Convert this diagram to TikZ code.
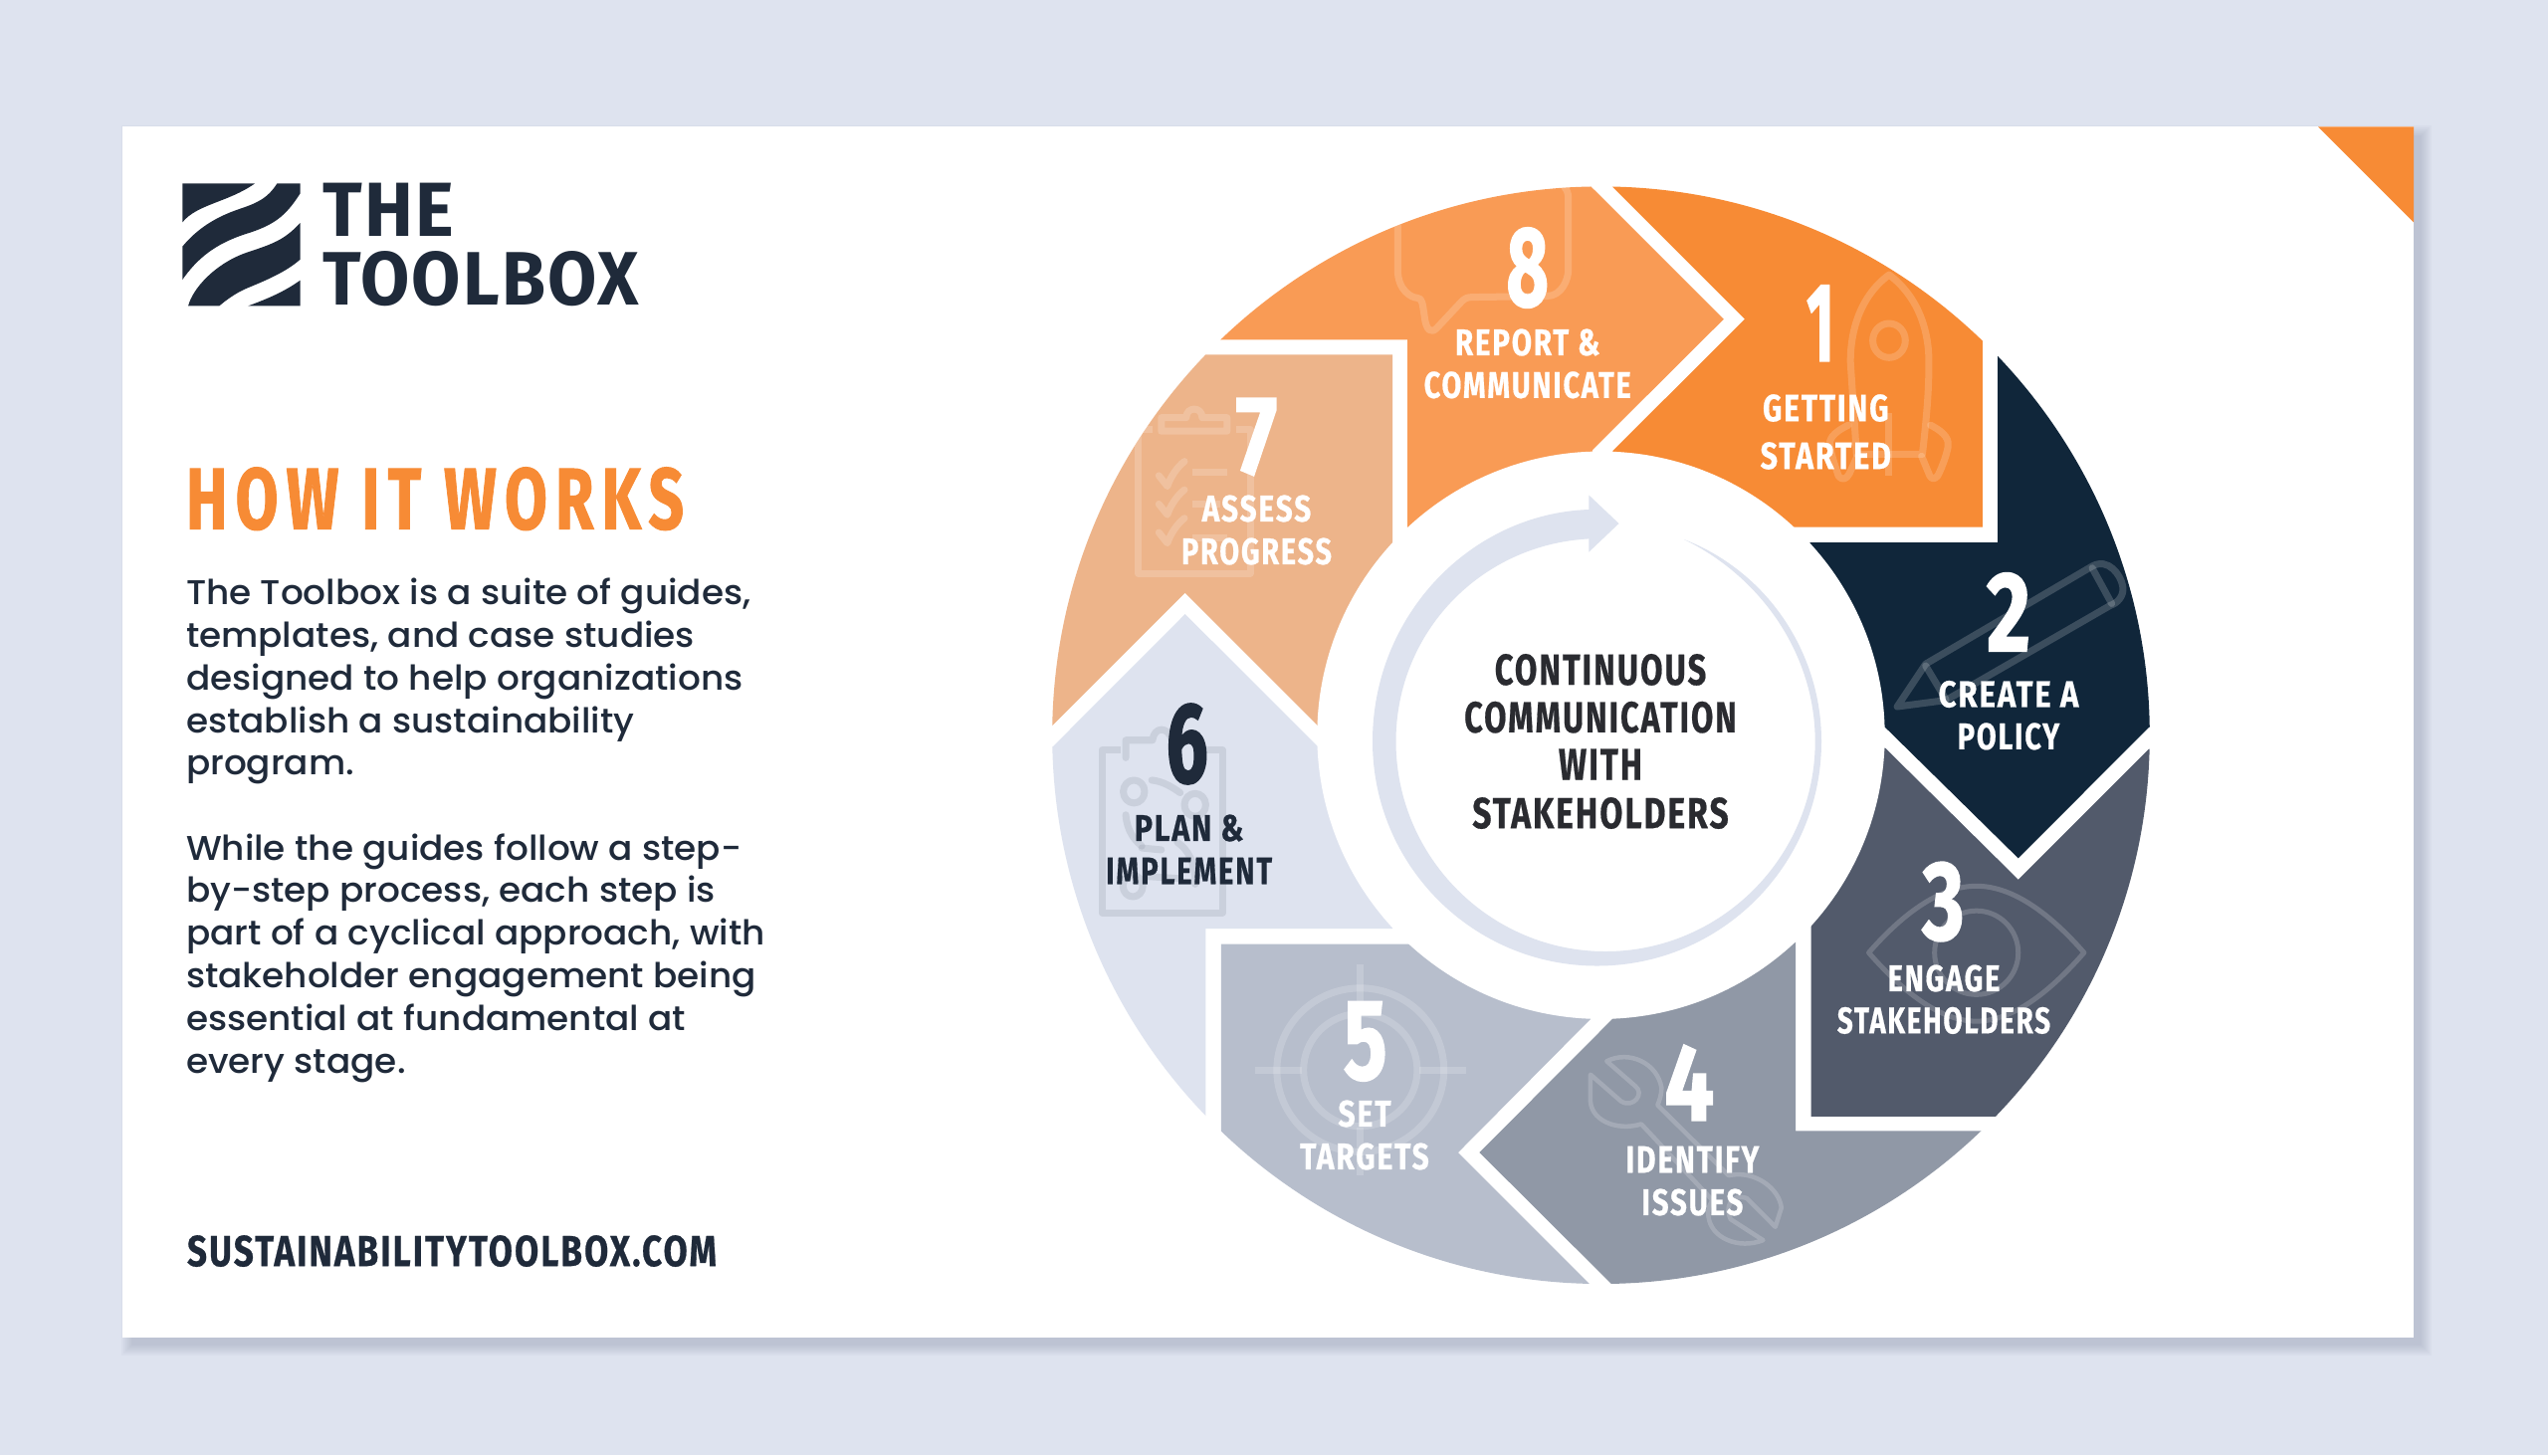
\documentclass[tikz,border=0pt]{standalone}
\usepackage{fontspec}
\setmainfont[FakeStretch=1.04]{Poppins Medium}
\newfontfamily\capsfont[LetterSpace=6,FakeBold=0.6]{Fira Sans}
\newfontfamily\headfont[LetterSpace=13,FakeBold=1.2]{Fira Sans}
\newfontfamily\wordfont[LetterSpace=3]{Fira Sans}
\newfontfamily\numfont[FakeBold=1.6]{Fira Sans}
\newdimen\pxu \pxu=0.01cm
\newcommand{\fitcaps}[3]{\resizebox{#1\pxu}{#2\pxu}{\capsfont\bfseries #3}}
\newcommand{\fitword}[3]{\resizebox{#1\pxu}{#2\pxu}{\wordfont\bfseries #3}}
\newcommand{\fitnum}[3]{\resizebox{#1\pxu}{#2\pxu}{\numfont\bfseries #3}}
\definecolor{bgblue}{HTML}{DEE3EF}
\definecolor{orangemain}{HTML}{F78B35}
\definecolor{navy}{HTML}{10263A}
\definecolor{slate}{HTML}{525A6B}
\definecolor{steel}{HTML}{9098A6}
\definecolor{mist}{HTML}{B7BECC}
\definecolor{peach}{HTML}{EDB48A}
\definecolor{orangelight}{HTML}{F99B55}
\definecolor{ink}{HTML}{1F2A3A}
\definecolor{hubink}{HTML}{2A2B30}
\definecolor{shadowc}{HTML}{6C788F}
\tikzset{
  txt/.style={inner sep=0pt,outer sep=0pt},
  whitetxt/.style={txt,text=white},
  inktxt/.style={txt,text=ink},
  hubtxt/.style={txt,text=hubink},
  bodytxt/.style={txt,text=ink,anchor=base west},
  icon/.style={line width=0.07cm,line join=round,line cap=round,draw=white,draw opacity=.18},
  icon6/.style={line width=0.07cm,line join=round,line cap=round,draw=steel,draw opacity=.25},
  z1/.style={shift={(1040,160)},xscale=0.35714,yscale=0.35714},
  z2/.style={shift={(1600,160)},xscale=0.40816,yscale=0.35714},
  z3/.style={shift={(1040,720)},xscale=0.35714,yscale=0.38265},
  z4/.style={shift={(1600,720)},xscale=0.40816,yscale=0.38265},
  z5/.style={shift={(140,150)},xscale=0.44643,yscale=0.33333},
}
\begin{document}
\begin{tikzpicture}[x=0.01cm,y=-0.01cm]
\useasboundingbox (0,0) rectangle (2560,1462);
\fill[bgblue] (0,0) rectangle (2560,1462);
% card shadow
\foreach \i in {0,2,...,10}{
  \fill[shadowc,opacity=.05] (122.5+9-\i,127+9-\i) rectangle (2425+8+\i,1344+8+\i);
}
\fill[white] (122.5,127) rectangle (2425,1344);
\fill[orangemain] (2329,127.3) -- (2425,127.3) -- (2425,223.3) -- cycle;
% logo mark
\begin{scope}[z5]
\fill[ink] (97,103) -- (260,103) .. controls (200,160) and (130,165) .. (97,220) -- cycle;
\fill[ink] (310,103) -- (362,103) -- (362,133) .. controls (330,200) and (305,228) .. (240,255) .. controls (170,285) and (130,330) .. (97,393) -- (97,293) .. controls (130,240) and (170,205) .. (225,180) .. controls (270,160) and (290,145) .. (310,103) -- cycle;
\fill[ink] (362,222) -- (362,332) .. controls (330,370) and (285,395) .. (240,420) .. controls (215,435) and (195,455) .. (180,472) -- (110,472) .. controls (120,420) and (170,345) .. (240,312) .. controls (300,285) and (325,275) .. (362,222) -- cycle;
\fill[ink] (362,395) -- (362,472) -- (245,472) .. controls (300,445) and (330,425) .. (362,395) -- cycle;
\end{scope}
\node[inktxt,anchor=west] (logothe) at (324.4,211) {\fitword{131.6}{53.4}{THE}};
\node[inktxt,anchor=west] (logotool) at (324.4,280.3) {\fitword{317.6}{54}{TOOLBOX}};
\node[txt,text=orangemain,anchor=west] (howit) at (187,501.2) {\resizebox{500\pxu}{62\pxu}{\headfont\bfseries HOW IT WORKS}};
% body text
\begin{scope}[every node/.append style={font=\fontsize{9.8pt}{12pt}\selectfont}]
\node[bodytxt] (p1) at (187,607.6) {The Toolbox is a suite of guides,};
\node[bodytxt] (p2) at (187,650.4) {templates, and case studies};
\node[bodytxt] (p3) at (187,693.2) {designed to help organizations};
\node[bodytxt] (p4) at (187,736) {establish a sustainability};
\node[bodytxt] (p5) at (187,778.8) {program.};
\node[bodytxt] (p6) at (187,864) {While the guides follow a step-};
\node[bodytxt] (p7) at (187,906.8) {by-step process, each step is};
\node[bodytxt] (p8) at (187,949.6) {part of a cyclical approach, with};
\node[bodytxt] (p9) at (187,992.4) {stakeholder engagement being};
\node[bodytxt] (p10) at (187,1035.2) {essential at fundamental at};
\node[bodytxt] (p11) at (187,1078) {every stage.};
\end{scope}
\node[inktxt,anchor=west] (url) at (188,1257) {\fitcaps{532}{31}{SUSTAINABILITYTOOLBOX.COM}};
% ring segments
\begin{scope}
\clip (1608.5,738.7) circle (5.51cm);
\fill[orangelight] (1100,341.4) -- (1414,341.4) -- (1414,529.6) -- (1590,600) -- (1600,452) -- (1731.8,320.7) -- (1600,189) -- (1500,89) -- (1100,89) -- cycle;
\fill[orangemain] (1753,320.7) -- (1620.4,188) -- (1520,87.6) -- (2100,87.6) -- (1991.8,87.6) -- (1991.8,529.6) -- (1802.9,529.6) -- (1620,600) -- (1620.4,452.9) -- cycle;
\fill[navy] (2007,100) -- (2250,100) -- (2250,730.7) -- (2159,730.7) -- (2027.8,862.4) -- (1893.9,730.7) -- (1800,730) -- (1818.4,545) -- (2007,545) -- cycle;
\fill[slate] (1893.9,751.4) -- (2027.8,883.8) -- (2159,752.5) -- (2250,752.5) -- (2250,1121.8) -- (1819.6,1121.8) -- (1819.6,930.5) -- (1800,800) -- cycle;
\fill[steel] (1620.4,1023.5) -- (1486.4,1158) -- (1618.4,1289.5) -- (1700,1370) -- (2100,1370) -- (2100,1136.4) -- (1804,1136.4) -- (1804,946.6) -- (1700,900) -- cycle;
\fill[mist] (1226.8,948.5) -- (1415.7,948.5) -- (1590,900) -- (1598,1024) -- (1465,1158) -- (1596.4,1289.5) -- (1640,1333) -- (1226.8,1333) -- cycle;
\fill[bgblue] (1190.7,617) -- (1324,750) -- (1400,800) -- (1399,933) -- (1211.4,933) -- (1211.4,1200) -- (1000,1200) -- (1000,750) -- (1058,750) -- cycle;
\fill[peach] (1000,356.4) -- (1399,356.4) -- (1399,545.7) -- (1450,650) -- (1340,745) -- (1190.7,595.7) -- (1040,746.4) -- (1000,746.4) -- cycle;
% icons
\begin{scope}[z2]
\draw[icon] (730,325) .. controls (665,380) and (635,470) .. (635,570) -- (650,830) -- (812,830) .. controls (825,700) and (828,640) .. (828,570) .. controls (828,470) and (795,380) .. (730,325) -- cycle;
\draw[icon] (730,510) ellipse (40 and 48);
\draw[icon] (630,748) .. controls (590,770) and (580,790) .. (585,810) .. controls (592,850) and (600,870) .. (605,890) .. controls (615,905) and (625,900) .. (632,885) -- (652,835);
\draw[icon] (832,748) .. controls (870,770) and (878,790) .. (875,810) .. controls (870,840) and (855,880) .. (850,890) .. controls (842,902) and (835,900) .. (830,890) -- (810,835);
\draw[icon,line cap=butt] (730,715) -- (730,890);
\draw[icon] (1230,1145) .. controls (1270,1120) and (1300,1170) .. (1305,1200) .. controls (1310,1230) and (1290,1250) .. (1275,1255) -- (870,1522) -- (750,1540) -- (820,1420) -- cycle;
\draw[icon] (1230,1150) -- (1278,1250);
\draw[icon] (820,1425) -- (870,1520);
\end{scope}
\begin{scope}[z4]
\draw[icon,line width=0.05cm] (680,620) .. controls (770,510) and (860,445) .. (945,445) .. controls (1030,445) and (1120,510) .. (1210,620) .. controls (1120,730) and (1030,800) .. (945,800) .. controls (860,800) and (770,730) .. (680,620) -- cycle;
\draw[icon,line width=0.05cm] (945,620) ellipse (103 and 110);
\draw[icon,line width=0.045cm] (35,905) .. controls (90,875) and (160,910) .. (170,975) .. controls (170,990) and (165,1010) .. (160,1020) -- (335,1205) .. controls (400,1190) and (460,1240) .. (465,1290) -- (450,1340) -- (380,1265) .. controls (340,1250) and (325,1290) .. (340,1320) -- (420,1375) .. controls (360,1400) and (290,1370) .. (285,1310) .. controls (283,1290) and (290,1280) .. (295,1270) -- (120,1070) .. controls (60,1090) and (-10,1060) .. (-5,1000) -- (-5,940) -- (70,1010) .. controls (100,1030) and (130,990) .. (105,970) -- cycle;
\end{scope}
\begin{scope}[z3]
\draw[icon] (915,928) ellipse (235 and 215);
\draw[icon] (915,928) ellipse (160 and 148);
\draw[icon,line cap=butt] (618,928) -- (750,928);
\draw[icon,line cap=butt] (1080,928) -- (1213,928);
\draw[icon,line cap=butt] (915,650) -- (915,780);
\draw[icon,line cap=butt] (915,1080) -- (915,1205);
% plan clipboard
\draw[icon6,line cap=butt] (240,88) -- (188,88) -- (188,515) -- (527,515) -- (527,88) -- (470,88);
\draw[icon6] (255,108) -- (255,62) -- (330,62) .. controls (335,25) and (375,25) .. (385,62);
\draw[icon6] (278,197) circle (30);
\draw[icon6] (450,232) circle (30);
\draw[icon6] (275,445) circle (28);
\draw[icon6] (328,167) .. controls (360,170) and (385,185) .. (408,200);
\draw[icon6] (255,258) .. controls (258,300) and (280,325) .. (300,340);
\draw[icon6] (400,330) .. controls (430,350) and (450,380) .. (450,440);
\draw[icon6] (300,345) -- (355,350);
\draw[icon6] (320,420) -- (400,425);
\end{scope}
\begin{scope}[z1]
% chat bubble
\draw[icon] (1020,185) -- (1020,310) .. controls (1020,370) and (1060,390) .. (1075,390) .. controls (1090,390) and (1090,410) .. (1095,440) .. controls (1100,485) and (1115,490) .. (1130,475) -- (1200,400) .. controls (1208,392) and (1215,388) .. (1230,388) -- (1440,385) .. controls (1480,385) and (1500,340) .. (1500,310) -- (1500,110) .. controls (1500,95) and (1495,85) .. (1490,80);
% assess clipboard
\draw[icon,line cap=butt] (330,760) -- (290,760) -- (290,1165) -- (605,1165) -- (605,760) -- (565,760);
\draw[icon,line cap=butt] (355,727) -- (425,727) .. controls (425,695) and (470,695) .. (470,727) -- (540,727) -- (540,765) -- (355,765) -- cycle;
\foreach \yy in {0,80,160}{
  \draw[icon] (348,\yy+890) -- (372,\yy+920) .. controls (380,\yy+895) and (400,\yy+865) .. (420,\yy+850);
}
\draw[icon,line cap=butt] (441,880) -- (540,880);
\draw[icon,line cap=butt] (441,970) -- (520,970);
\draw[icon,line cap=butt] (441,1065) -- (540,1065);
\end{scope}
\end{scope}
% hub
\fill[white] (1608.5,738.7) circle (2.85cm);
\fill[bgblue] (1692,542) .. controls (1775,574) and (1830,655) .. (1830,745) .. controls (1830,869.5) and (1729,970.5) .. (1604.5,970.5) .. controls (1480,970.5) and (1379,869.5) .. (1379,745) .. controls (1379,618) and (1478,516) .. (1596.4,512) -- (1596.4,497.5) -- (1626.5,526) -- (1596.4,554.6) -- (1596.4,541.4) .. controls (1488,547) and (1402.5,635) .. (1402.5,745) .. controls (1402.5,861) and (1497,956) .. (1613,956) .. controls (1729,956) and (1823.7,861) .. (1823.7,745) .. controls (1823.7,658) and (1770,580) .. (1692,542) -- cycle;
\node[hubtxt] (hub1) at (1608,672.9) {\fitcaps{212.5}{31}{CONTINUOUS}};
\node[hubtxt] (hub2) at (1608,720.7) {\fitcaps{273.6}{31}{COMMUNICATION}};
\node[hubtxt] (hub3) at (1608,768) {\fitcaps{84}{31}{WITH}};
\node[hubtxt] (hub4) at (1608,817) {\fitcaps{257.4}{31}{STAKEHOLDERS}};
% numbers
\node[whitetxt] (n1) at (1829,324.8) {\fitnum{27.8}{76}{1}};
\node[whitetxt] (n2) at (2018,615) {\fitnum{44}{78.6}{2}};
\node[whitetxt] (n3) at (1952.4,906) {\fitnum{42}{77.7}{3}};
\node[whitetxt] (n4) at (1697.3,1087.8) {\fitnum{50}{75.8}{4}};
\node[whitetxt] (n5) at (1371.8,1046.4) {\fitnum{43.6}{77.7}{5}};
\node[inktxt] (n6) at (1192.7,747.5) {\fitnum{42}{79}{6}};
\node[whitetxt] (n7) at (1262.5,439) {\fitnum{41.8}{75.7}{7}};
\node[whitetxt] (n8) at (1534.7,269) {\fitnum{42.5}{78.6}{8}};
% labels
\node[whitetxt] (l1a) at (1834.3,410) {\fitcaps{126.5}{27}{GETTING}};
\node[whitetxt] (l1b) at (1834.3,458) {\fitcaps{131.4}{27}{STARTED}};
\node[whitetxt] (l2a) at (2018,697.5) {\fitcaps{140.8}{26.5}{CREATE A}};
\node[whitetxt] (l2b) at (2018,739.9) {\fitcaps{102.4}{26.5}{POLICY}};
\node[whitetxt] (l3a) at (1953,983) {\fitcaps{112.7}{26.5}{ENGAGE}};
\node[whitetxt] (l3b) at (1953,1025.4) {\fitcaps{214.3}{26.5}{STAKEHOLDERS}};
\node[whitetxt] (l4a) at (1700.4,1165) {\fitcaps{133.9}{26.5}{IDENTIFY}};
\node[whitetxt] (l4b) at (1700.4,1208) {\fitcaps{102}{26.5}{ISSUES}};
\node[whitetxt] (l5a) at (1371,1119) {\fitcaps{53.2}{26.5}{SET}};
\node[whitetxt] (l5b) at (1371,1162) {\fitcaps{129.6}{26.5}{TARGETS}};
\node[inktxt] (l6a) at (1194.6,832) {\fitcaps{109.6}{26.5}{PLAN \&}};
\node[inktxt] (l6b) at (1194.6,875) {\fitcaps{167}{26.5}{IMPLEMENT}};
\node[whitetxt] (l7a) at (1262.5,511) {\fitcaps{109.6}{26.5}{ASSESS}};
\node[whitetxt] (l7b) at (1262.5,554) {\fitcaps{151}{26.5}{PROGRESS}};
\node[whitetxt] (l8a) at (1534.7,344) {\fitcaps{145.4}{26.5}{REPORT \&}};
\node[whitetxt] (l8b) at (1534.7,386.8) {\fitcaps{208}{26.5}{COMMUNICATE}};
\end{tikzpicture}
\end{document}
